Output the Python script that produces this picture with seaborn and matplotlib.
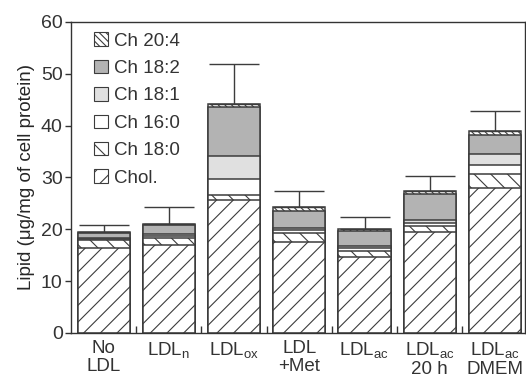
import numpy as np
import pandas as pd
import matplotlib
matplotlib.use("Agg")
import matplotlib.pyplot as plt
import matplotlib.patches as mpatches
from matplotlib.ticker import FixedLocator
import seaborn as sns

# ---- data (µg/mg of cell protein) ----
groups = ["No LDL", "LDLn", "LDLox", "LDL+Met", "LDLac", "LDLac 20h", "LDLac DMEM"]
tick_labels = ["No\nLDL", "LDL$_{\\mathregular{n}}$", "LDL$_{\\mathregular{ox}}$", "LDL\n+Met",
               "LDL$_{\\mathregular{ac}}$", "LDL$_{\\mathregular{ac}}$\n20 h", "LDL$_{\\mathregular{ac}}$\nDMEM"]
chol   = [16.4, 16.9, 25.7, 17.6, 14.6, 19.4, 28.0]
ch18_0 = [1.6, 1.5, 0.9, 1.6, 1.2, 1.3, 2.6]
ch16_0 = [0.15, 0.3, 3.1, 0.7, 0.5, 0.5, 1.8]
ch18_1 = [0.15, 0.3, 4.5, 0.3, 0.5, 0.5, 2.2]
ch18_2 = [0.95, 1.8, 9.4, 3.4, 2.8, 5.1, 3.6]
ch20_4 = [0.2, 0.2, 0.6, 0.7, 0.5, 0.6, 0.7]
err_up = [1.35, 3.3, 7.7, 3.0, 2.2, 2.9, 4.0]

layer_names = ["Chol.", "Ch 18:0", "Ch 16:0", "Ch 18:1", "Ch 18:2", "Ch 20:4"]
layers = [chol, ch18_0, ch16_0, ch18_1, ch18_2, ch20_4]
face = ["white", "white", "white", "#e0e0e0", "#b3b3b3", "white"]
hatches = ["//", "\\\\", "", "", "", "\\\\\\\\\\"]

sns.set_style("ticks")
plt.rcParams.update({
    "font.family": ["Liberation Sans", "DejaVu Sans"],
    "mathtext.fontset": "custom",
    "mathtext.rm": "Liberation Sans",
    "mathtext.it": "Liberation Sans:italic",
    "mathtext.default": "rm",
    "hatch.linewidth": 0.8,
    "hatch.color": "#3c3c3c",
    "text.color": "#333333",
    "axes.edgecolor": "#333333",
    "xtick.color": "#333333",
    "ytick.color": "#333333",
})

EC = "#3c3c3c"
fig = plt.figure(figsize=(5.26, 3.77), dpi=100)
ax = fig.add_axes([0.135, 0.117, 0.863, 0.825])

cum = np.cumsum(np.array(layers), axis=0)
df = pd.DataFrame({"group": groups})
# draw cumulative tops from highest layer down so lower layers cover
for i in range(len(layers) - 1, -1, -1):
    df["val"] = cum[i]
    sns.barplot(data=df, x="group", y="val", order=groups, color=face[i], saturation=1,
                hatch=hatches[i], edgecolor=EC, linewidth=1.1, width=0.8,
                errorbar=None, ax=ax)

# upper error bars
ax.errorbar(np.arange(len(groups)), cum[-1], yerr=[np.zeros(len(groups)), err_up],
            fmt="none", ecolor=EC, elinewidth=1.0, capsize=18, capthick=1.0)

ax.set_xlim(-0.5, 6.46)
ax.set_ylim(0, 60)
ax.set_yticks(range(0, 61, 10))
ax.set_xticks(range(len(groups)))
ax.set_xticklabels(tick_labels, fontsize=13.5, linespacing=1.1)
ax.tick_params(axis="x", length=0, pad=5)
ax.xaxis.set_minor_locator(FixedLocator(np.arange(0.5, 6.0, 1.0)))
ax.tick_params(axis="x", which="minor", direction="in", length=5, width=1.0)
ax.tick_params(axis="y", labelsize=14, direction="out", length=4, width=1.0, pad=2)
ax.set_xlabel("")
ax.set_ylabel("Lipid (μg/mg of cell protein)", fontsize=13.5, labelpad=4)
for s in ax.spines.values():
    s.set_linewidth(1.0)
    s.set_visible(True)

handles = [mpatches.Patch(facecolor=face[i], edgecolor=EC, hatch=hatches[i], linewidth=0.8,
                          label=layer_names[i]) for i in range(len(layers) - 1, -1, -1)]
ax.legend(handles=handles, loc="upper left", bbox_to_anchor=(0.035, 0.99), frameon=False,
          fontsize=13.5, handlelength=0.72, handleheight=0.72, handletextpad=0.35,
          labelspacing=0.54, borderaxespad=0)

fig.savefig("out.png", dpi=100)
